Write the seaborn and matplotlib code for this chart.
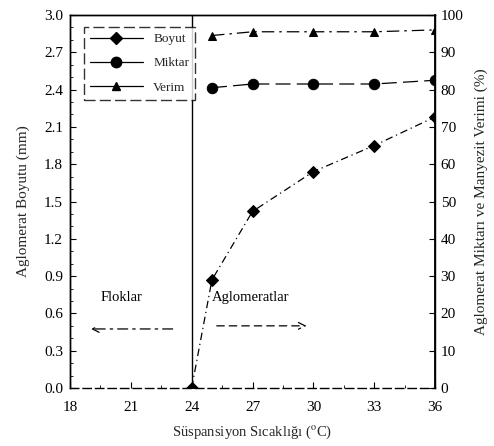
import matplotlib
matplotlib.use("Agg")
import matplotlib.pyplot as plt
import seaborn as sns
import pandas as pd
from matplotlib.ticker import MultipleLocator
from matplotlib.lines import Line2D

# Suspension temperature (°C)
sicaklik = [24, 25, 27, 30, 33, 36]
# Agglomerate size (mm)
boyut = [0.0, 0.87, 1.42, 1.74, 1.95, 2.18]
# Agglomerate amount (%) and magnesite yield (%)
sicaklik_2 = [25, 27, 30, 33, 36]
miktar = [80.5, 81.5, 81.5, 81.5, 82.5]
verim = [94.5, 95.5, 95.5, 95.5, 96.0]

x_ticks = [18, 21, 24, 27, 30, 33, 36]
y_left_ticks = [0.0, 0.3, 0.6, 0.9, 1.2, 1.5, 1.8, 2.1, 2.4, 2.7, 3.0]
y_right_ticks = [0, 10, 20, 30, 40, 50, 60, 70, 80, 90, 100]

sns.set_theme(style="white")
plt.rcParams["font.family"] = ["Liberation Serif", "DejaVu Serif"]
plt.rcParams["mathtext.fontset"] = "stix"

fig = plt.figure(figsize=(4.94, 4.46), dpi=100)
ax = fig.add_axes([0.1417, 0.130, 0.7389, 0.8364])
ax2 = ax.twinx()

df_b = pd.DataFrame({"T": sicaklik, "Boyut": boyut})
df_m = pd.DataFrame({"T": sicaklik_2, "Miktar": miktar, "Verim": verim})

sns.lineplot(data=df_b, x="T", y="Boyut", ax=ax, color="black", lw=0.9,
             linestyle=(0, (6, 3, 1, 3)), marker="D", markersize=6,
             markeredgecolor="black", legend=False)
sns.lineplot(data=df_m, x="T", y="Miktar", ax=ax2, color="black", lw=0.9,
             linestyle=(0, (12, 5)), marker="o", markersize=7.5,
             markeredgecolor="black", legend=False)
sns.lineplot(data=df_m, x="T", y="Verim", ax=ax2, color="black", lw=0.9,
             linestyle=(0, (10, 4, 2, 4)), marker="^", markersize=6,
             markeredgecolor="black", legend=False)

# boundary between flocs and agglomerates
ax.axvline(24, color="black", lw=1.0)

ax.set_xlim(18, 36)
ax.set_ylim(0, 3.0)
ax2.set_ylim(0, 100)
ax.set_xticks(x_ticks)
ax.set_yticks(y_left_ticks)
ax.set_yticklabels([f"{v:.1f}" for v in y_left_ticks])
ax2.set_yticks(y_right_ticks)
ax.yaxis.set_minor_locator(MultipleLocator(0.1))
ax.xaxis.set_minor_locator(MultipleLocator(1.5))

for a in (ax, ax2):
    for s in a.spines.values():
        s.set_color("black")
        s.set_linewidth(1.0)
ax2.spines["right"].set_linewidth(1.3)
ax.spines["bottom"].set_linestyle((0, (6, 3)))
ax2.spines["bottom"].set_visible(False)

ax.tick_params(axis="y", which="major", direction="in", length=4,
               width=0.8, colors="black", labelsize=11, pad=5, left=True)
ax.tick_params(axis="x", which="major", direction="in", length=4,
               width=0.8, colors="black", labelsize=11, pad=9, bottom=True)
ax.tick_params(axis="both", which="minor", direction="in", length=2,
               width=0.6, colors="black", left=True, bottom=True)
ax2.tick_params(axis="y", which="major", direction="in", length=4,
                width=0.8, colors="black", labelsize=11, pad=4, right=True)

ax.set_xlabel("Süspansiyon Sıcaklığı ($^{\\mathrm{o}}$C)", fontsize=10.5,
              labelpad=7)
ax.set_ylabel("Aglomerat Boyutu (mm)", fontsize=11, labelpad=10)
ax2.set_ylabel("Aglomerat Miktarı ve Manyezit Verimi (%)", fontsize=11,
               labelpad=8)

# region annotations
ax.text(19.5, 0.70, "Floklar", fontsize=10.5, color="black")
ax.annotate("", xy=(18.9, 0.475), xytext=(23.2, 0.475),
            arrowprops=dict(arrowstyle="->", color="black", lw=0.9,
                            linestyle=(0, (8, 4, 2, 4))))
ax.text(25.0, 0.70, "Aglomeratlar", fontsize=10.5, color="black")
ax.annotate("", xy=(29.8, 0.5), xytext=(25.1, 0.5),
            arrowprops=dict(arrowstyle="->", color="black", lw=0.9,
                            linestyle=(0, (6, 4))))

# legend
handles = [
    Line2D([], [], color="black", lw=0.9, marker="D", markersize=6),
    Line2D([], [], color="black", lw=0.9, marker="o", markersize=7.5),
    Line2D([], [], color="black", lw=0.9, marker="^", markersize=6),
]
leg = ax.legend(handles, ["Boyut", "Miktar", "Verim"], loc="upper left",
                bbox_to_anchor=(0.02, 0.985), fontsize=9.5, handlelength=4.0,
                frameon=True, fancybox=False, edgecolor="black",
                borderpad=0.45, labelspacing=0.9, handletextpad=0.8)
leg.get_frame().set_linestyle((0, (8, 3)))
leg.get_frame().set_linewidth(1.0)

fig.savefig("out.png", dpi=100)
